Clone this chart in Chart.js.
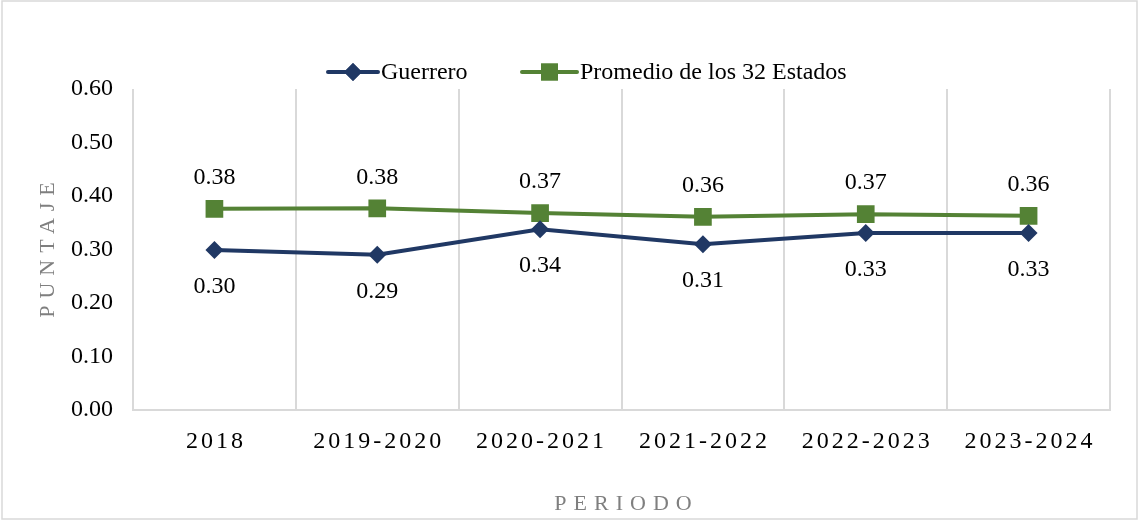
<!DOCTYPE html>
<html>
<head>
<meta charset="utf-8">
<script src="https://cdn.jsdelivr.net/npm/chart.js@4.4.1/dist/chart.umd.min.js"></script>
<style>
    html, body { margin: 0; padding: 0; background: #fff; }
    #wrap { width: 1139px; height: 520px; }
</style>
</head>
<body>
<div id="wrap"><canvas id="chart" width="1139" height="520"></canvas></div>
<script>
// Data
const periods = ['2018', '2019-2020', '2020-2021', '2021-2022', '2022-2023', '2023-2024'];
const guerrero = [0.299, 0.290, 0.338, 0.310, 0.331, 0.331];
const promedio = [0.376, 0.377, 0.368, 0.361, 0.366, 0.363];
const seriesNames = ['Guerrero', 'Promedio de los 32 Estados'];
const yMin = 0;
const yMax = 0.6;
const yStep = 0.1;

const SERIF = "'Liberation Serif', 'Times New Roman', serif";
const BLUE = '#203864';
const GREEN = '#548235';
const GRID = '#d9d9d9';

// Draws what Chart.js can't do out of the box: value labels, spaced axis text, Excel-style legend
const decorPlugin = {
    id: 'decor',
    beforeDraw(chart) {
        const ctx = chart.ctx;
        ctx.save();
        ctx.strokeStyle = GRID;
        ctx.lineWidth = 1.5;
        ctx.strokeRect(2, 1, chart.width - 4, chart.height - 2);
        ctx.restore();
    },
    afterDatasetsDraw(chart) {
        const ctx = chart.ctx;
        const xScale = chart.scales.x;
        const area = chart.chartArea;

        // value labels
        ctx.save();
        ctx.font = '24px ' + SERIF;
        ctx.fillStyle = '#000';
        ctx.textAlign = 'center';
        ctx.textBaseline = 'middle';
        chart.getDatasetMeta(1).data.forEach((pt, i) => {
            ctx.fillText(promedio[i].toFixed(2), pt.x, pt.y - 31);
        });
        chart.getDatasetMeta(0).data.forEach((pt, i) => {
            ctx.fillText(guerrero[i].toFixed(2), pt.x, pt.y + 37);
        });

        // category labels with letter spacing
        ctx.letterSpacing = '3px';
        periods.forEach((p, i) => {
            ctx.fillText(p, xScale.getPixelForValue(i) + 1.5, area.bottom + 32);
        });

        // axis titles
        ctx.fillStyle = '#7f7f7f';
        ctx.font = '22px ' + SERIF;
        ctx.letterSpacing = '7px';
        ctx.fillText('PERIODO', (area.left + area.right) / 2 + 5, 504);
        ctx.save();
        ctx.translate(48, (area.top + area.bottom) / 2);
        ctx.rotate(-Math.PI / 2);
        ctx.fillText('PUNTAJE', 3, 0);
        ctx.restore();
        ctx.letterSpacing = '0px';

        // legend
        const legendY = 72;
        const items = [
            { x: 328, w: 50, color: BLUE, style: 'rectRot', r: 9, text: seriesNames[0] },
            { x: 522, w: 55, color: GREEN, style: 'rect', r: 12, text: seriesNames[1] }
        ];
        ctx.font = '24px ' + SERIF;
        ctx.textAlign = 'left';
        items.forEach(it => {
            ctx.strokeStyle = it.color;
            ctx.lineWidth = 4;
            ctx.lineCap = 'round';
            ctx.beginPath();
            ctx.moveTo(it.x, legendY);
            ctx.lineTo(it.x + it.w, legendY);
            ctx.stroke();
            ctx.fillStyle = it.color;
            Chart.helpers.drawPoint(ctx, { pointStyle: it.style, radius: it.r, borderWidth: 0 }, it.x + it.w / 2, legendY);
            ctx.fill();
            ctx.fillStyle = '#000';
            ctx.fillText(it.text, it.x + it.w + 3, legendY + 1);
        });
        ctx.restore();
    }
};

const chart = new Chart(document.getElementById('chart').getContext('2d'), {
    type: 'line',
    data: {
        labels: periods,
        datasets: [{
            label: seriesNames[0],
            data: guerrero,
            borderColor: BLUE,
            backgroundColor: BLUE,
            borderWidth: 4,
            pointStyle: 'rectRot',
            pointRadius: 9,
            pointBorderWidth: 0,
            tension: 0
        }, {
            label: seriesNames[1],
            data: promedio,
            borderColor: GREEN,
            backgroundColor: GREEN,
            borderWidth: 4,
            pointStyle: 'rect',
            pointRadius: 12.5,
            pointBorderWidth: 0,
            tension: 0
        }]
    },
    options: {
        responsive: false,
        animation: false,
        events: [],
        layout: {
            padding: { top: 89, right: 29, left: 0, bottom: 0 }
        },
        plugins: {
            legend: { display: false },
            tooltip: { enabled: false }
        },
        scales: {
            x: {
                offset: true,
                grid: {
                    offset: true,
                    color: GRID,
                    lineWidth: 2,
                    drawTicks: false
                },
                border: { display: true, color: GRID, width: 2 },
                ticks: { display: false },
                afterFit(scale) { scale.height = 110; }
            },
            y: {
                min: yMin,
                max: yMax,
                grid: { display: false, drawTicks: false },
                border: { display: false },
                ticks: {
                    stepSize: yStep,
                    padding: 20,
                    color: '#000',
                    font: { family: SERIF, size: 24 },
                    callback: v => v.toFixed(2)
                },
                afterFit(scale) { scale.width = 133; }
            }
        }
    },
    plugins: [decorPlugin]
});
</script>
</body>
</html>
